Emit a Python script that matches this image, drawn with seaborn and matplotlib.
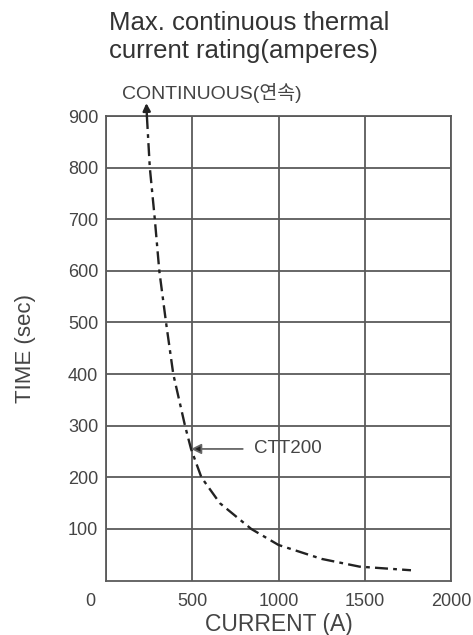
import matplotlib
matplotlib.use("Agg")
import matplotlib.pyplot as plt
import matplotlib.transforms as mtransforms
import seaborn as sns
import pandas as pd

sns.set_theme(style="white")
plt.rcParams['font.family'] = ['Liberation Sans', 'Noto Sans CJK KR', 'DejaVu Sans']

# Data
current_a = [237, 254, 283, 309, 348, 390, 458, 493, 553, 660, 842, 1000, 1250, 1470, 1768]
time_sec = [900, 800, 700, 600, 500, 400, 300, 255, 200, 150, 100, 69, 42, 27, 20]
x_ticks = [0, 500, 1000, 1500, 2000]
y_ticks = [100, 200, 300, 400, 500, 600, 700, 800, 900]
title = "Max. continuous thermal\ncurrent rating(amperes)"
cont_label = "CONTINUOUS(연속)"
point_label = "CTT200"
point_current = 493
point_time = 255

df = pd.DataFrame({"current": current_a, "time": time_sec})

fig = plt.figure(figsize=(4.73, 6.35), dpi=100)
ax = fig.add_axes([0.2241, 0.0857, 0.7294, 0.7316])

txt = "#444444"
grid = "#5a5a5a"

sns.lineplot(data=df, x="current", y="time", sort=False, ax=ax, color="#222222",
             linewidth=1.7, zorder=3)
ax.lines[0].set_linestyle((0, (5.5, 2.2, 1.6, 2.2)))

ax.set_xlim(0, 2000)
ax.set_ylim(0, 900)
ax.set_xticks(x_ticks)
ax.set_xticklabels([str(v) for v in x_ticks])
ax.set_yticks(y_ticks)
ax.set_yticklabels([str(v) for v in y_ticks])
ax.tick_params(axis='both', length=0, labelsize=13, colors=txt)
ax.tick_params(axis='x', pad=9)
ax.tick_params(axis='y', pad=5.5)

# shift the origin label left
lbl0 = ax.get_xticklabels()[0]
offset = mtransforms.ScaledTranslation(-16 / 100, 0, fig.dpi_scale_trans)
lbl0.set_transform(lbl0.get_transform() + offset)

ax.grid(True, color=grid, linewidth=1.3)
for s in ax.spines.values():
    s.set_color(grid)
    s.set_linewidth(1.3)

ax.set_xlabel("CURRENT (A)", fontsize=16.5, color=txt, labelpad=2)
ax.set_ylabel("TIME (sec)", fontsize=16, color=txt, labelpad=23)

fig.text(0.230, 0.983, title, fontsize=18.5, color="#333333", va="top", ha="left",
         linespacing=1.2)

# CONTINUOUS arrow
ax.annotate("", xy=(current_a[0] - 3, 925), xytext=(current_a[0], 900),
            arrowprops=dict(arrowstyle="-|>", color="#222222", lw=1.7,
                            mutation_scale=11, shrinkA=0, shrinkB=0),
            annotation_clip=False)
fig.text(0.258, 0.854, cont_label, fontsize=14, color=txt, va="center", ha="left")

# CTT200 arrow
ax.annotate(point_label, xy=(point_current, point_time), xytext=(860, point_time),
            fontsize=13.5, color=txt, va="center", ha="left",
            arrowprops=dict(arrowstyle="-|>", color="#666666", lw=1.3,
                            mutation_scale=15, shrinkA=6, shrinkB=0,
                            fc="#222222", ec="#666666"),
            zorder=5)

fig.savefig("out.png", dpi=100)
